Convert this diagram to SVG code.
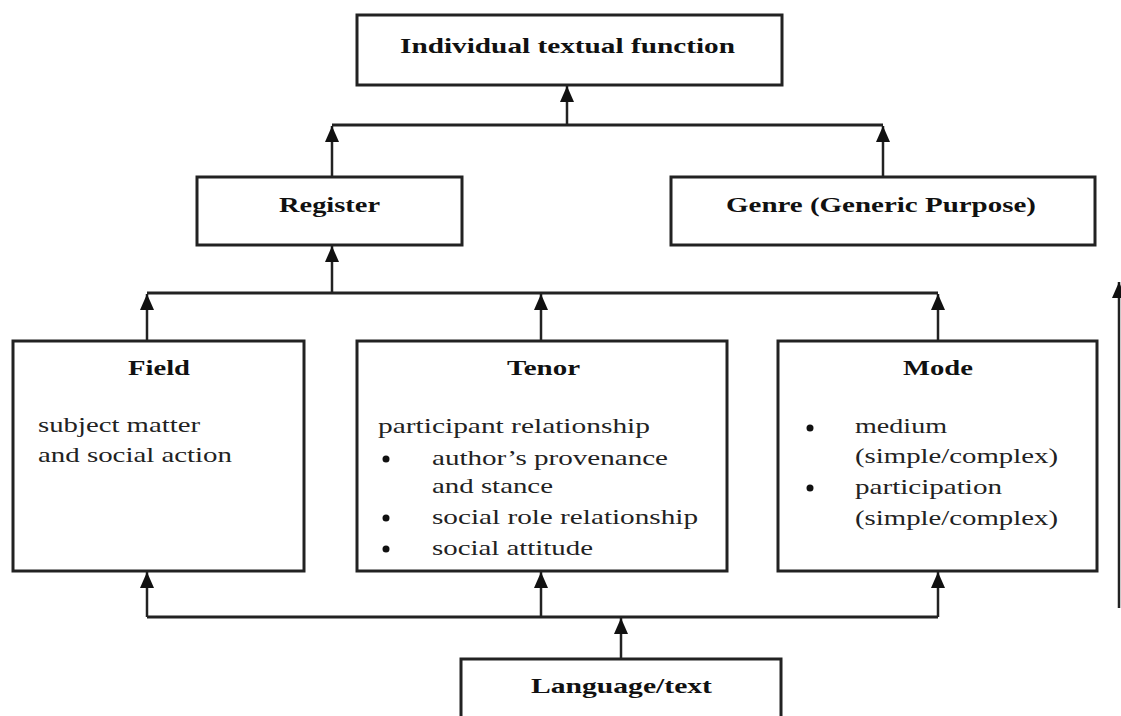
<svg xmlns="http://www.w3.org/2000/svg" width="1121" height="716" viewBox="0 0 1121 716">
<style>
.box{fill:#fff;stroke:#222;stroke-width:3}
.t{font-family:"Liberation Serif","Times New Roman",serif;font-weight:bold;font-size:22px;fill:#111}
.b{font-family:"Liberation Serif","Times New Roman",serif;font-size:21px;fill:#222}
.c{fill:none;stroke:#222;stroke-width:3}
.v{fill:none;stroke:#222;stroke-width:2.5;marker-end:url(#ah)}
.d{fill:#111}
</style>
<defs>
<marker id="ah" markerUnits="userSpaceOnUse" markerWidth="17" markerHeight="15" refX="16" refY="7" orient="auto">
<path d="M0,0 L16,7 L0,14 z" fill="#111"/>
</marker>
</defs>
<rect width="1121" height="716" fill="#fff"/>
<g id="connectors">
<path class="c" d="M332,125 H883"/>
<path class="v" d="M567,125 V86"/>
<path class="v" d="M332,177 V126"/>
<path class="v" d="M883,177 V126"/>
<path class="c" d="M147,293 H938"/>
<path class="v" d="M332,293 V246"/>
<path class="v" d="M147,341 V294"/>
<path class="v" d="M541,341 V294"/>
<path class="v" d="M938,341 V294"/>
<path class="c" d="M147,617 H938"/>
<path class="v" d="M147,617 V572"/>
<path class="v" d="M541,617 V572"/>
<path class="v" d="M938,617 V572"/>
<path class="v" d="M621,659 V618"/>
<path class="v" d="M1119,608 V282" stroke-width="2"/>
</g>
<g id="n-individual">
<rect class="box" x="357" y="15" width="425" height="70"/>
<text class="t" x="400" y="53" textLength="335" lengthAdjust="spacingAndGlyphs">Individual textual function</text>
</g>
<g id="n-register">
<rect class="box" x="197" y="177" width="265" height="68"/>
<text class="t" x="279" y="212" textLength="101" lengthAdjust="spacingAndGlyphs">Register</text>
</g>
<g id="n-genre">
<rect class="box" x="671" y="177" width="424" height="68"/>
<text class="t" x="726" y="212" textLength="310" lengthAdjust="spacingAndGlyphs">Genre (Generic Purpose)</text>
</g>
<g id="n-field">
<rect class="box" x="13" y="341" width="291" height="230"/>
<text class="t" x="128" y="375" textLength="62" lengthAdjust="spacingAndGlyphs">Field</text>
<text class="b" x="38" y="432" textLength="162" lengthAdjust="spacingAndGlyphs">subject matter</text>
<text class="b" x="38" y="462" textLength="194" lengthAdjust="spacingAndGlyphs">and social action</text>
</g>
<g id="n-tenor">
<rect class="box" x="357" y="341" width="370" height="230"/>
<text class="t" x="507" y="375" textLength="73" lengthAdjust="spacingAndGlyphs">Tenor</text>
<text class="b" x="378" y="433" textLength="272" lengthAdjust="spacingAndGlyphs">participant relationship</text>
<circle class="d" cx="386" cy="459" r="3.5"/>
<text class="b" x="432" y="465" textLength="236" lengthAdjust="spacingAndGlyphs">author’s provenance</text>
<text class="b" x="432" y="493" textLength="121" lengthAdjust="spacingAndGlyphs">and stance</text>
<circle class="d" cx="386" cy="518" r="3.5"/>
<text class="b" x="432" y="524" textLength="266" lengthAdjust="spacingAndGlyphs">social role relationship</text>
<circle class="d" cx="386" cy="549" r="3.5"/>
<text class="b" x="432" y="555" textLength="161" lengthAdjust="spacingAndGlyphs">social attitude</text>
</g>
<g id="n-mode">
<rect class="box" x="778" y="341" width="319" height="230"/>
<text class="t" x="903" y="375" textLength="70" lengthAdjust="spacingAndGlyphs">Mode</text>
<circle class="d" cx="810" cy="428" r="3.5"/>
<text class="b" x="855" y="433" textLength="92" lengthAdjust="spacingAndGlyphs">medium</text>
<text class="b" x="855" y="463" textLength="203" lengthAdjust="spacingAndGlyphs">(simple/complex)</text>
<circle class="d" cx="810" cy="488" r="3.5"/>
<text class="b" x="855" y="494" textLength="147" lengthAdjust="spacingAndGlyphs">participation</text>
<text class="b" x="855" y="525" textLength="203" lengthAdjust="spacingAndGlyphs">(simple/complex)</text>
</g>
<g id="n-language">
<rect class="box" x="461" y="659" width="320" height="70"/>
<text class="t" x="531" y="693" textLength="181" lengthAdjust="spacingAndGlyphs">Language/text</text>
</g>
</svg>
